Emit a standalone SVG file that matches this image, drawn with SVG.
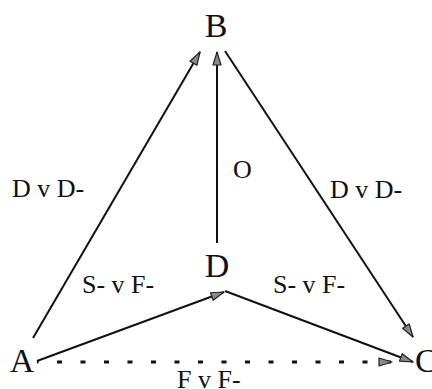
<svg xmlns="http://www.w3.org/2000/svg" width="432" height="389" viewBox="0 0 432 389">
<defs>
<marker id="ah" markerUnits="userSpaceOnUse" markerWidth="16" markerHeight="12" refX="14" refY="5" orient="auto">
<path d="M1,1 L14,5 L1,9 Z" fill="#8a8a8a" stroke="#222" stroke-width="1.2" stroke-linejoin="round"/>
</marker>
</defs>
<style>
.node{font-family:"Liberation Serif","Times New Roman",serif;font-size:34px;fill:#111}
.lbl{font-family:"Liberation Serif","Times New Roman",serif;font-size:26px;fill:#111}
.e{stroke:#111;stroke-width:2;fill:none;marker-end:url(#ah)}
.d{stroke-dasharray:5 18.5;stroke-dashoffset:3.5;stroke-width:3}
</style>
<rect width="432" height="389" fill="#fff"/>
<g id="edges">
<line class="e" x1="33" y1="338" x2="200" y2="52"/>
<line class="e" x1="217" y1="243" x2="217" y2="52"/>
<line class="e" x1="225" y1="51" x2="413" y2="337"/>
<line class="e" x1="37" y1="361" x2="224" y2="292"/>
<line class="e" x1="225" y1="291" x2="413" y2="362"/>
<line class="e d" x1="37" y1="362" x2="392" y2="362"/>
</g>
<g id="labels">
<text class="lbl" x="12" y="197">D v D-</text>
<text class="lbl" x="330" y="198">D v D-</text>
<text class="lbl" x="233" y="178">O</text>
<text class="lbl" x="82" y="293">S- v F-</text>
<text class="lbl" x="273" y="293">S- v F-</text>
<text class="lbl" x="177" y="388">F v F-</text>
</g>
<g id="node-B"><text class="node" x="216" y="37" text-anchor="middle">B</text></g>
<g id="node-D"><text class="node" x="217" y="277" text-anchor="middle">D</text></g>
<g id="node-A"><text class="node" x="22" y="372" text-anchor="middle">A</text></g>
<g id="node-C"><text class="node" x="415" y="372">C</text></g>
</svg>
